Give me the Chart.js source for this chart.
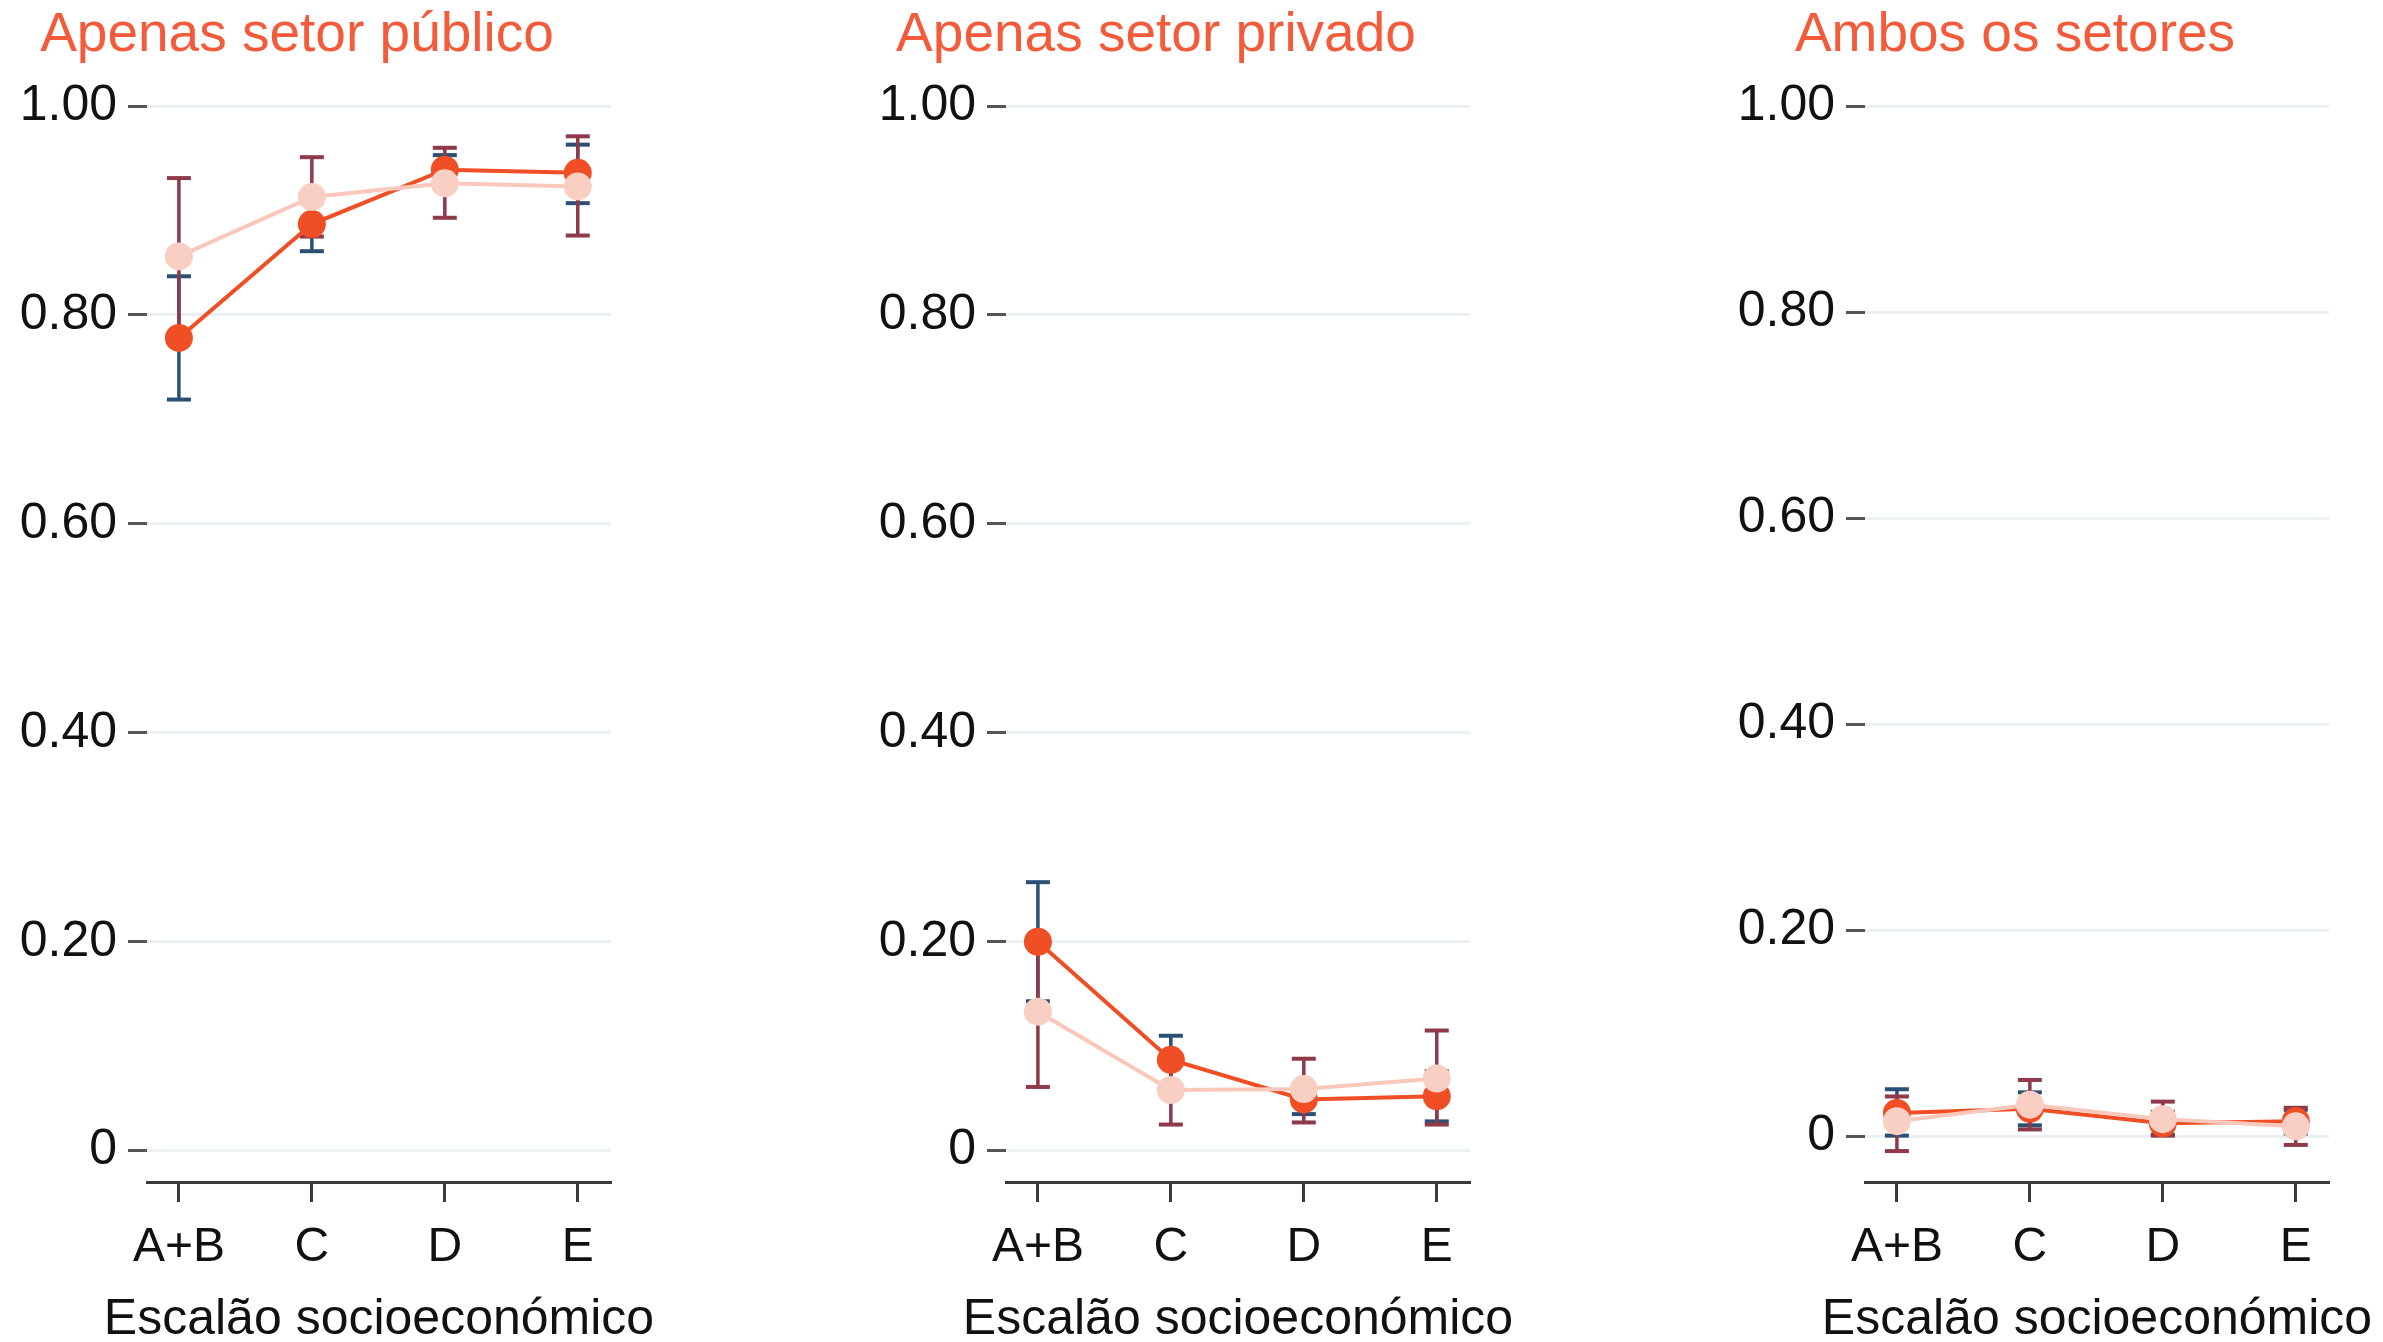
<!DOCTYPE html>
<html>
  <head>
    <title>Escalão socioeconómico</title>
    <script src="https://cdn.jsdelivr.net/npm/chart.js"></script>
    <style>
      body { margin: 0; background: #fff; width: 2383px; height: 1342px; position: relative; overflow: hidden; }
      canvas { position: absolute; top: 0; }
    </style>
  </head>
  <body>
    <canvas id="publico" width="682" height="1342" style="left:-17px"></canvas>
    <canvas id="privado" width="682" height="1342" style="left:842px"></canvas>
    <canvas id="ambos" width="682" height="1342" style="left:1701px"></canvas>
    <script>
      var categories = ["A+B", "C", "D", "E"];
      var yTickValues = [0, 0.2, 0.4, 0.6, 0.8, 1.0];
      var yTickLabels = ["0", "0.20", "0.40", "0.60", "0.80", "1.00"];
      var panelTitles = ["Apenas setor público", "Apenas setor privado", "Ambos os setores"];
      var xTitle = "Escalão socioeconómico";

      // apenas setor publico
      var publicoEscuro = [0.778, 0.887, 0.939, 0.936];
      var publicoEscuroLo = [0.719, 0.861, 0.925, 0.907];
      var publicoEscuroHi = [0.837, 0.913, 0.953, 0.963];
      var publicoClaro = [0.856, 0.913, 0.926, 0.923];
      var publicoClaroLo = [0.781, 0.875, 0.893, 0.876];
      var publicoClaroHi = [0.931, 0.951, 0.960, 0.971];

      // apenas setor privado
      var privadoEscuro = [0.200, 0.087, 0.049, 0.052];
      var privadoEscuroLo = [0.143, 0.063, 0.035, 0.028];
      var privadoEscuroHi = [0.257, 0.110, 0.062, 0.076];
      var privadoClaro = [0.133, 0.058, 0.059, 0.069];
      var privadoClaroLo = [0.061, 0.025, 0.027, 0.025];
      var privadoClaroHi = [0.205, 0.091, 0.088, 0.115];

      // ambos os setores
      var ambosEscuro = [0.023, 0.027, 0.013, 0.015];
      var ambosEscuroLo = [0.001, 0.011, 0.002, 0.003];
      var ambosEscuroHi = [0.046, 0.043, 0.024, 0.026];
      var ambosClaro = [0.015, 0.031, 0.017, 0.010];
      var ambosClaroLo = [-0.014, 0.007, 0.001, -0.008];
      var ambosClaroHi = [0.039, 0.055, 0.034, 0.028];

      Chart.defaults.font.family = "'Liberation Sans', Arial, sans-serif";
      Chart.defaults.color = "#111";

      // x axis title wider than the plot, chart.js would squeeze it
      var axisTitle = {
        id: "axisTitle",
        afterDraw: function (chart) {
          var a = chart.chartArea;
          var c = chart.ctx;
          c.save();
          c.font = "50px 'Liberation Sans', Arial, sans-serif";
          c.fillStyle = "#111";
          c.textAlign = "center";
          c.textBaseline = "middle";
          c.fillText(xTitle, (a.left + a.right) / 2, chart.scales.x.bottom + 43);
          c.restore();
        },
      };

      function points(vals) {
        return vals.map(function (v, i) { return { x: i, y: v }; });
      }

      function errorBars(lo, hi) {
        var pts = [];
        for (var i = 0; i < lo.length; i++) {
          pts.push({ x: i, y: lo[i] }, { x: i, y: hi[i] }, { x: i, y: null });
        }
        return pts;
      }

      function makePanel(id, title, dark, darkLo, darkHi, light, lightLo, lightHi, yMin) {
        var ctx = document.getElementById(id).getContext("2d");
        return new Chart(ctx, {
          type: "line",
          data: {
            datasets: [
              {
                data: points(light),
                borderColor: "#f9c8bb",
                backgroundColor: "#f9cfc3",
                borderWidth: 4,
                pointRadius: 14,
                pointBorderWidth: 0,
                order: 0,
                clip: false,
              },
              {
                data: points(dark),
                borderColor: "#f04e25",
                backgroundColor: "#f04e25",
                borderWidth: 4,
                pointRadius: 14,
                pointBorderWidth: 0,
                order: 1,
                clip: false,
              },
              {
                data: errorBars(lightLo, lightHi),
                borderColor: "#8e3a4a",
                borderWidth: 3.5,
                pointStyle: "line",
                pointRadius: 12,
                pointBorderWidth: 4,
                pointBorderColor: "#8e3a4a",
                order: 2,
                clip: false,
              },
              {
                data: errorBars(darkLo, darkHi),
                borderColor: "#2c5075",
                borderWidth: 3.5,
                pointStyle: "line",
                pointRadius: 12,
                pointBorderWidth: 4,
                pointBorderColor: "#2c5075",
                order: 3,
                clip: false,
              },
            ],
          },
          plugins: [axisTitle],
          options: {
            responsive: false,
            animation: false,
            layout: { padding: { left: 0, right: 54, top: 0, bottom: 65 } },
            plugins: {
              legend: { display: false },
              tooltip: { enabled: false },
              title: {
                display: true,
                text: title,
                color: "#f35b3b",
                font: { size: 55, weight: "normal", lineHeight: 1.2 },
                padding: { top: 3, bottom: 37 },
              },
            },
            scales: {
              x: {
                type: "linear",
                min: -0.24,
                max: 3.25,
                afterBuildTicks: function (scale) {
                  scale.ticks = categories.map(function (c, i) { return { value: i }; });
                },
                afterFit: function (scale) {
                  scale.height = 95;
                },
                ticks: {
                  font: { size: 48 },
                  padding: 17,
                  maxRotation: 0,
                  callback: function (v) { return categories[v]; },
                },
                grid: {
                  drawOnChartArea: false,
                  drawTicks: true,
                  tickLength: 20,
                  tickColor: "#3a3a3a",
                  tickWidth: 3,
                },
                border: { display: true, color: "#3a3a3a", width: 3 },
              },
              y: {
                min: yMin,
                max: 1.0,
                afterBuildTicks: function (scale) {
                  scale.ticks = yTickValues.map(function (v) { return { value: v }; });
                },
                afterFit: function (scale) {
                  scale.width = 164;
                },
                ticks: {
                  font: { size: 50 },
                  padding: 11,
                  callback: function (v) {
                    var k = yTickValues.indexOf(v);
                    return k >= 0 ? yTickLabels[k] : "";
                  },
                },
                grid: {
                  color: "#ebf1f2",
                  lineWidth: 3,
                  tickLength: 19,
                  tickColor: "#555",
                  tickWidth: 3,
                },
                border: { display: false },
              },
            },
          },
        });
      }

      makePanel("publico", panelTitles[0], publicoEscuro, publicoEscuroLo, publicoEscuroHi,
        publicoClaro, publicoClaroLo, publicoClaroHi, -0.03);
      makePanel("privado", panelTitles[1], privadoEscuro, privadoEscuroLo, privadoEscuroHi,
        privadoClaro, privadoClaroLo, privadoClaroHi, -0.03);
      makePanel("ambos", panelTitles[2], ambosEscuro, ambosEscuroLo, ambosEscuroHi,
        ambosClaro, ambosClaroLo, ambosClaroHi, -0.044);
    </script>
  </body>
</html>
